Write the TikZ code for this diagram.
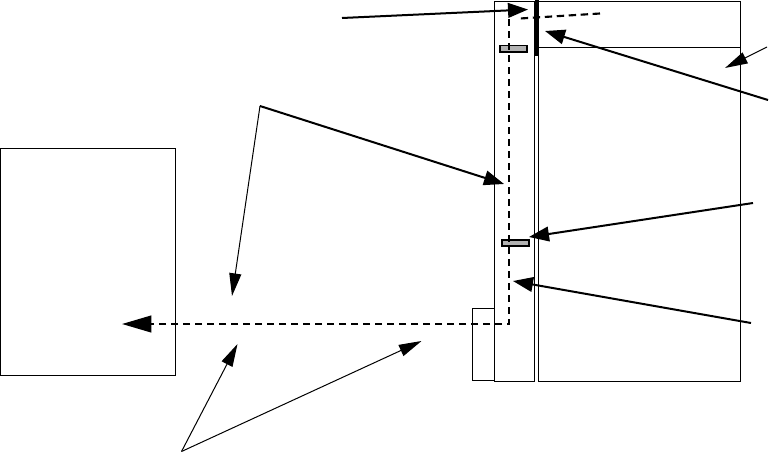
\documentclass[tikz,border=0pt]{standalone}
\usetikzlibrary{arrows.meta}
\begin{document}
\begin{tikzpicture}[x=0.75pt,y=-0.75pt,
  box/.style={draw=black,line width=0.75pt},
  grayslot/.style={draw=black,fill=black!30,line width=1.1pt},
  thickarrow/.style={line width=1.5pt,-{Triangle[length=15pt,width=11pt]}},
  thinarrow/.style={line width=0.75pt,-{Triangle[length=17pt,width=9pt]}},
  flow/.style={line width=1.6pt,dash pattern=on 5.5pt off 3.5pt},
  flowarrow/.style={flow,-{Triangle[length=22pt,width=12.5pt]}}]
\useasboundingbox (0,0) rectangle (770,457);
% shapes
\draw[box] (0.5,148) rectangle (175,375);
\draw[box] (472,308) rectangle (494,380);
\draw[box] (494,1) rectangle (534,381);
\draw[box] (538,1) rectangle (740,381);
\draw[box] (538,47) -- (740,47);
\fill[black] (535,0) rectangle (539,56);
\draw[grayslot] (500,45.5) rectangle (527,52);
\draw[grayslot] (502,240) rectangle (529,246);
% coordinates
\coordinate (dA) at (600,13.5);
\coordinate (dB) at (520,18.5);
\coordinate (dC) at (509,19);
\coordinate (dD) at (509,324);
\coordinate (dE) at (122,324);
\coordinate (a1s) at (342,18);
\coordinate (a1t) at (528,9.5);
\coordinate (a2s) at (768,100);
\coordinate (a2t) at (545,31);
\coordinate (a3s) at (767,47);
\coordinate (a3t) at (725,68);
\coordinate (k) at (260,106);
\coordinate (a4t) at (504,184);
\coordinate (a5t) at (232,296);
\coordinate (a6s) at (753,203);
\coordinate (a6t) at (529,237);
\coordinate (a7s) at (751,323);
\coordinate (a7t) at (513,281);
\coordinate (p) at (181.5,451.5);
\coordinate (a8t) at (237.5,344);
\coordinate (a9t) at (421.5,341);
% dashed flow path
\draw[flow] (dA) -- (dB);
\draw[flowarrow] (dC) -- (dD) -- (dE);
% arrows
\draw[thickarrow] (a1s) -- (a1t);
\draw[thickarrow] (a2s) -- (a2t);
\draw[thinarrow] (a3s) -- (a3t);
\draw[thickarrow] (k) -- (a4t);
\draw[thinarrow] (k) -- (a5t);
\draw[thickarrow] (a6s) -- (a6t);
\draw[thickarrow] (a7s) -- (a7t);
\draw[thinarrow] (p) -- (a8t);
\draw[thinarrow] (p) -- (a9t);
\end{tikzpicture}
\end{document}
